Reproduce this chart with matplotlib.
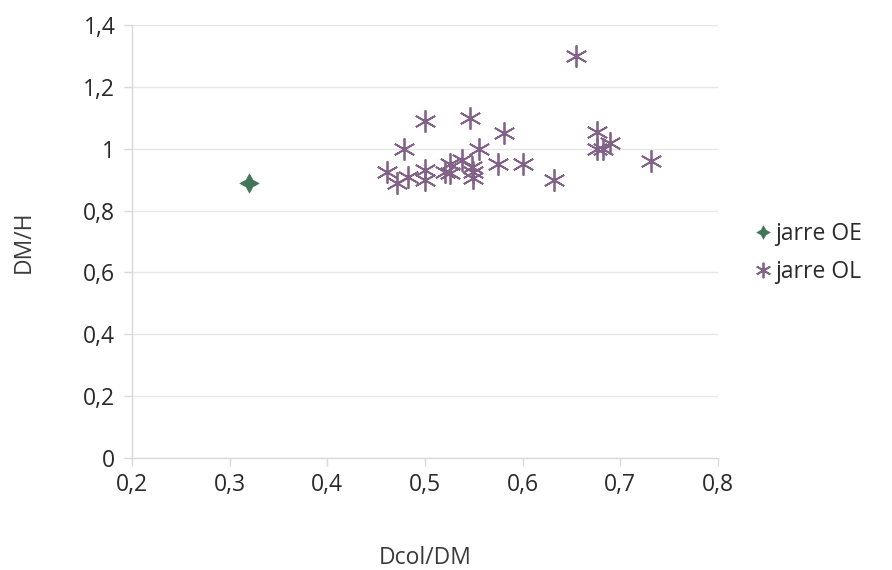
import matplotlib
matplotlib.use("Agg")
import matplotlib.pyplot as plt
from matplotlib.ticker import FixedLocator, FuncFormatter

plt.rcParams['font.family'] = ['Open Sans', 'DejaVu Sans']

# Data
oe_x = [0.32]
oe_y = [0.89]
ol_x = [0.655, 0.676, 0.689, 0.676, 0.682, 0.731, 0.632, 0.500, 0.546, 0.581,
        0.478, 0.555, 0.461, 0.471, 0.483, 0.500, 0.500, 0.520, 0.526, 0.526,
        0.538, 0.548, 0.549, 0.549, 0.575, 0.600]
ol_y = [1.30, 1.055, 1.02, 1.00, 1.00, 0.96, 0.90, 1.09, 1.10, 1.05,
        1.00, 1.00, 0.925, 0.89, 0.91, 0.93, 0.90, 0.925, 0.95, 0.92,
        0.965, 0.94, 0.925, 0.905, 0.95, 0.95]
x_ticks = [0.2, 0.3, 0.4, 0.5, 0.6, 0.7, 0.8]
y_ticks = [0, 0.2, 0.4, 0.6, 0.8, 1.0, 1.2, 1.4]
series_names = ["jarre OE", "jarre OL"]
x_label = "Dcol/DM"
y_label = "DM/H"

fig = plt.figure(figsize=(8.92, 5.70), dpi=100)
ax = fig.add_axes([132/892, 1-458/570, (718-132)/892, (458-25)/570])

def fmt(v, pos):
    s = ("%.1f" % v)
    if s.endswith(".0"):
        s = s[:-2]
    return s.replace(".", ",")

green = "#3f7657"
purple = "#83628a"
txt = "#2a2a2a"
FS = 16.5

ax.plot(oe_x, oe_y, linestyle="none", marker=(4, 1, 0), markersize=14,
        color=green, markeredgewidth=0.4, label=series_names[0], zorder=3)
ax.plot(ol_x, ol_y, linestyle="none", marker=(6, 2, 0), markersize=16,
        color=purple, markeredgewidth=1.3, label=series_names[1], zorder=3)

ax.set_xlim(0.2, 0.8)
ax.set_ylim(0, 1.4)
ax.xaxis.set_major_locator(FixedLocator(x_ticks))
ax.yaxis.set_major_locator(FixedLocator(y_ticks))
ax.xaxis.set_major_formatter(FuncFormatter(fmt))
ax.yaxis.set_major_formatter(FuncFormatter(fmt))

ax.grid(axis="y", color="#e6e6e6", linewidth=1)
ax.set_axisbelow(True)
for s in ["top", "right"]:
    ax.spines[s].set_visible(False)
for s in ["left", "bottom"]:
    ax.spines[s].set_color("#d9d9d9")
    ax.spines[s].set_linewidth(1)
ax.tick_params(axis="both", colors="#d9d9d9", length=6, width=1,
               labelcolor=txt, labelsize=FS)
ax.tick_params(axis="x", pad=5)
ax.tick_params(axis="y", pad=6)

ax.set_xlabel(x_label, fontsize=FS, color="#3a3a3a", labelpad=35)
ax.set_ylabel(y_label, fontsize=FS, color="#3a3a3a", labelpad=34)

leg = fig.legend(loc="upper left", bbox_to_anchor=(742/892, 1-213/570),
                 frameon=False, fontsize=FS, handletextpad=0.05,
                 handlelength=1.0, labelspacing=0.6, borderaxespad=0,
                 markerscale=0.7, labelcolor=txt)

fig.savefig("out.png", dpi=100)
